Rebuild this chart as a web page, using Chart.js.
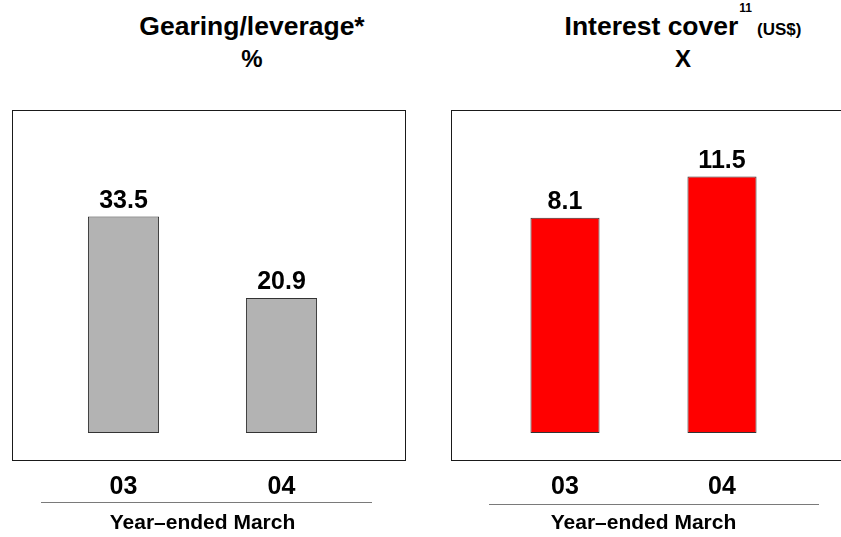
<!DOCTYPE html>
<html>
<head>
<meta charset="utf-8">
<script src="https://cdn.jsdelivr.net/npm/chart.js@4.4.1/dist/chart.umd.min.js"></script>
<style>
  body { margin: 0; background: #fff; font-family: "Liberation Sans", Arial, sans-serif; }
  #page { position: relative; width: 841px; height: 537px; overflow: hidden; }
  .title { position: absolute; top: 10px; transform: translateX(-50%); text-align: center;
           font-weight: bold; font-size: 26.5px; line-height: 32px; white-space: nowrap; color: #000; }
  .title .unit { font-size: 24px; }
  .title .sup { font-size: 12px; line-height: 0; position: relative; top: -23px; margin-left: 1px; }
  .title .small { font-size: 17px; line-height: 0; margin-left: 5px; }
  .frame { position: absolute; top: 110px; height: 349px; border: 1.5px solid #1a1a1a; }
  .rule { position: absolute; height: 0; border-top: 1.5px solid #7a7a7a; }
  canvas { position: absolute; top: 0; }
</style>
</head>
<body>
<div id="page">
  <div class="frame" style="left:12px; width:392px;"></div>
  <div class="frame" style="left:451px; width:420px;"></div>
  <div class="rule" style="left:41px; width:331px; top:502px;"></div>
  <div class="rule" style="left:489px; width:330px; top:504px;"></div>

  <div class="title" style="left:252px;">Gearing/leverage*<br><span class="unit">%</span></div>
  <div class="title" style="left:683px;">Interest cover<span class="sup">11</span><span class="small">(US$)</span><br><span class="unit">X</span></div>

  <div style="position:absolute; left:0; top:0; width:430px; height:537px;"><canvas id="gearingChart"></canvas></div>
  <div style="position:absolute; left:430px; top:0; width:411px; height:537px;"><canvas id="coverChart"></canvas></div>
</div>

<script>
// Datos
const years = ['03', '04'];
const gearing = [33.5, 20.9];
const interestCover = [8.1, 11.5];
const axisTitle = 'Year\u2013ended March';

const FONT = '"Liberation Sans", Arial, sans-serif';

// Escribe el valor encima de cada barra
const valueLabels = {
  id: 'valueLabels',
  afterDatasetsDraw(chart) {
    const ctx = chart.ctx;
    const values = chart.data.datasets[0].data;
    ctx.save();
    ctx.font = 'bold 25px ' + FONT;
    ctx.fillStyle = '#000';
    ctx.textAlign = 'center';
    ctx.textBaseline = 'alphabetic';
    chart.getDatasetMeta(0).data.forEach((bar, i) => {
      ctx.fillText(values[i].toFixed(1), bar.x, bar.y - 9);
    });
    ctx.restore();
  }
};

function makeChart(id, values, color, yMin, yMax, pad, barPct) {
  return new Chart(document.getElementById(id), {
    type: 'bar',
    data: {
      labels: years,
      datasets: [{
        data: values,
        base: yMin,
        backgroundColor: color,
        borderColor: '#333',
        borderWidth: 1,
        borderSkipped: false,
        categoryPercentage: 1,
        barPercentage: barPct
      }]
    },
    options: {
      responsive: true,
      maintainAspectRatio: false,
      animation: false,
      layout: { padding: { top: 110, left: pad[0], right: pad[1], bottom: 0 } },
      plugins: { legend: { display: false }, tooltip: { enabled: false } },
      scales: {
        x: {
          grid: { display: false, drawTicks: false },
          border: { display: false },
          ticks: { color: '#000', padding: 39, font: { family: FONT, size: 25, weight: 'bold' } },
          title: {
            display: true, text: axisTitle, color: '#000',
            padding: { top: 0, bottom: 1 },
            font: { family: FONT, size: 21, weight: 'bold' }
          },
          afterFit(axis) { axis.height = 104; }
        },
        y: { display: false, min: yMin, max: yMax }
      }
    },
    plugins: [valueLabels]
  });
}

makeChart('gearingChart', gearing, '#b3b3b3', 0, 50, [44.5, 69.5], 0.45);
makeChart('coverChart', interestCover, '#ff0000', -9.7, 17, [56.5, 40.5], 0.44);
</script>
</body>
</html>
